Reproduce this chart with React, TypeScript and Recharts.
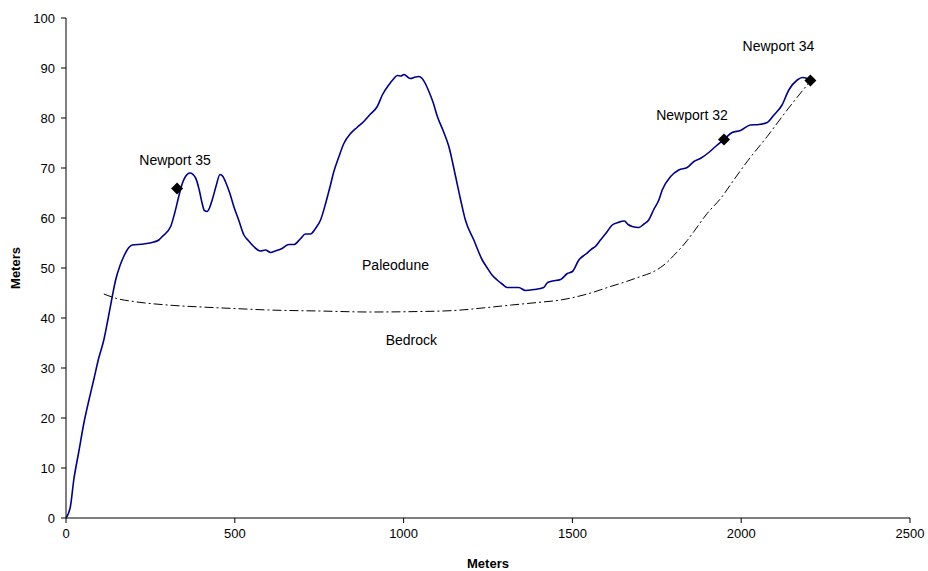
import {
  ComposedChart,
  Line,
  Scatter,
  XAxis,
  YAxis,
  ReferenceDot,
  LabelList,
} from "recharts";

const profileDistance = [
  0, 13, 23, 38, 53, 68, 82, 97, 112, 125, 137, 147, 160, 171, 185, 196, 230,
  260, 275, 285, 310, 322, 334, 345, 354, 367, 384, 395, 403, 410, 418, 425,
  433, 445, 456, 465, 472, 485, 497, 512, 527, 540, 556, 576, 591, 606, 620,
  640, 660, 675, 695, 709, 724, 739, 754, 769, 783, 793, 808, 823, 843, 862,
  882, 902, 922, 937, 956, 970, 981, 992, 1001, 1010, 1020, 1035, 1045, 1055,
  1065, 1075, 1088, 1100, 1117, 1134, 1154, 1169, 1183, 1208, 1233, 1248,
  1262, 1277, 1292, 1307, 1341, 1361, 1386, 1415, 1425, 1435, 1465, 1485,
  1500, 1519, 1540, 1559, 1568, 1583, 1600, 1618, 1635, 1654, 1665, 1677,
  1697, 1712, 1726, 1741, 1756, 1766, 1791, 1815, 1840, 1860, 1879, 1904,
  1924, 1949, 1973, 1998, 2027, 2052, 2077, 2097, 2121, 2141, 2166, 2181,
  2196, 2205,
];
const profileElevation = [
  0, 2.3, 7.6, 13.3, 19, 23.6, 27.6, 32, 35.6, 40, 44.3, 47.6, 50.5, 52.3, 54,
  54.6, 54.8, 55.2, 55.6, 56.3, 58.3, 61, 64.3, 67, 68.3, 69, 68, 65.5, 63,
  61.5, 61.3, 62, 63.6, 66.5, 68.7, 68.3, 67.3, 65, 62.3, 59.5, 56.6, 55.5,
  54.3, 53.4, 53.6, 53.1, 53.4, 53.9, 54.7, 54.7, 55.9, 56.8, 56.8, 57.9,
  59.6, 62.9, 66.5, 69.2, 72.2, 74.9, 76.9, 78.1, 79.3, 80.8, 82.3, 84.6,
  86.6, 87.8, 88.5, 88.4, 88.7, 88.3, 87.9, 88.2, 88.3, 87.9, 86.8, 85.3, 83,
  80.3, 77.5, 74.3, 68.3, 63.6, 59.6, 55.6, 51.6, 50, 48.6, 47.6, 46.8, 46.1,
  46.1, 45.5, 45.7, 46.1, 47, 47.3, 47.7, 48.9, 49.3, 51.6, 52.8, 53.9, 54.3,
  55.6, 57, 58.6, 59.1, 59.4, 58.7, 58.3, 58.1, 58.8, 59.6, 61.7, 63.6, 65.6,
  68.3, 69.6, 70.1, 71.3, 71.9, 73.1, 74.3, 75.7, 77.1, 77.5, 78.6, 78.7,
  79.1, 80.6, 82.6, 85.6, 87.6, 88.1, 87.9, 87.5,
];

const bedrockDistance = [
  112, 150, 200, 300, 400, 497, 600, 750, 900, 1050, 1150, 1248, 1320, 1396,
  1465, 1544, 1613, 1660, 1702, 1735, 1761, 1780, 1800, 1820, 1840, 1860,
  1899, 1939, 1978, 2020, 2077, 2136, 2200,
];
const bedrockElevation = [
  44.8, 43.9, 43.3, 42.6, 42.2, 41.9, 41.6, 41.4, 41.2, 41.3, 41.5, 42.1,
  42.6, 43.1, 43.6, 44.8, 46.3, 47.3, 48.3, 49.1, 50.1, 51.1, 52.5, 53.9,
  55.5, 57.3, 60.9, 63.9, 67.6, 71.5, 76.3, 81.6, 87,
];

const wellNames = ["Newport 35", "Newport 32", "Newport 34"];
const wellDistance = [329, 1949, 2205];
const wellElevation = [65.9, 75.7, 87.5];

const xTicks = [0, 500, 1000, 1500, 2000, 2500];
const yTicks = [0, 10, 20, 30, 40, 50, 60, 70, 80, 90, 100];

const profile = profileDistance.map((x, i) => ({ x, y: profileElevation[i] }));
const bedrock = bedrockDistance.map((x, i) => ({ x, y: bedrockElevation[i] }));
const wells = wellDistance.map((x, i) => ({
  x,
  y: wellElevation[i],
  name: wellNames[i],
}));

const FONT = "'Liberation Sans', Arial, sans-serif";
const TICK = { fill: "#000", fontSize: 13, fontFamily: FONT };
// label shift relative to each well marker
const WELL_LABEL_DX = [-2, -32, -32];
const WELL_LABEL_DY = [-19, -15, -25];

const Diamond = (props: any) => {
  const { cx, cy } = props;
  const r = 6;
  return (
    <polygon
      points={`${cx},${cy - r} ${cx + r},${cy} ${cx},${cy + r} ${cx - r},${cy}`}
      fill="#000"
    />
  );
};

const WellLabel = (props: any) => {
  const { x, y, width, index, value } = props;
  return (
    <text
      x={x + (width || 0) / 2 + WELL_LABEL_DX[index]}
      y={y + WELL_LABEL_DY[index]}
      textAnchor="middle"
      fontSize={14}
      fontFamily={FONT}
      fill="#000"
    >
      {value}
    </text>
  );
};

export default function App() {
  return (
    <div style={{ position: "absolute", left: 0, top: 0, background: "#fff" }}>
      <ComposedChart
        width={928}
        height={571}
        margin={{ top: 18, right: 18, bottom: 23, left: 0 }}
      >
        <XAxis
          type="number"
          dataKey="x"
          domain={[0, 2500]}
          ticks={xTicks}
          allowDataOverflow
          height={30}
          tick={TICK}
          tickSize={5}
          tickMargin={6}
          stroke="#000"
          label={{
            value: "Meters",
            position: "insideBottom",
            offset: -20,
            fontSize: 13,
            fontWeight: "bold",
            fontFamily: FONT,
            fill: "#000",
          }}
        />
        <YAxis
          type="number"
          domain={[0, 100]}
          ticks={yTicks}
          width={66}
          tick={TICK}
          tickSize={5}
          tickMargin={6}
          stroke="#000"
          label={{
            value: "Meters",
            angle: -90,
            position: "insideLeft",
            offset: 15,
            style: { textAnchor: "middle" },
            fontSize: 13,
            fontWeight: "bold",
            fontFamily: FONT,
            fill: "#000",
          }}
        />
        <Line
          data={bedrock}
          dataKey="y"
          type="monotone"
          stroke="#000"
          strokeWidth={1}
          strokeDasharray="9 3 2 3"
          dot={false}
          isAnimationActive={false}
        />
        <Line
          data={profile}
          dataKey="y"
          type="monotone"
          stroke="#000090"
          strokeWidth={1.6}
          dot={false}
          isAnimationActive={false}
        />
        <Scatter
          data={wells}
          dataKey="y"
          shape={Diamond}
          isAnimationActive={false}
        >
          <LabelList dataKey="name" content={WellLabel} />
        </Scatter>
        <ReferenceDot
          x={976}
          y={50.6}
          r={0}
          fill="none"
          stroke="none"
          label={{
            value: "Paleodune",
            position: "center",
            fontSize: 14,
            fontFamily: FONT,
            fill: "#000",
          }}
        />
        <ReferenceDot
          x={1023}
          y={35.6}
          r={0}
          fill="none"
          stroke="none"
          label={{
            value: "Bedrock",
            position: "center",
            fontSize: 14,
            fontFamily: FONT,
            fill: "#000",
          }}
        />
      </ComposedChart>
    </div>
  );
}
